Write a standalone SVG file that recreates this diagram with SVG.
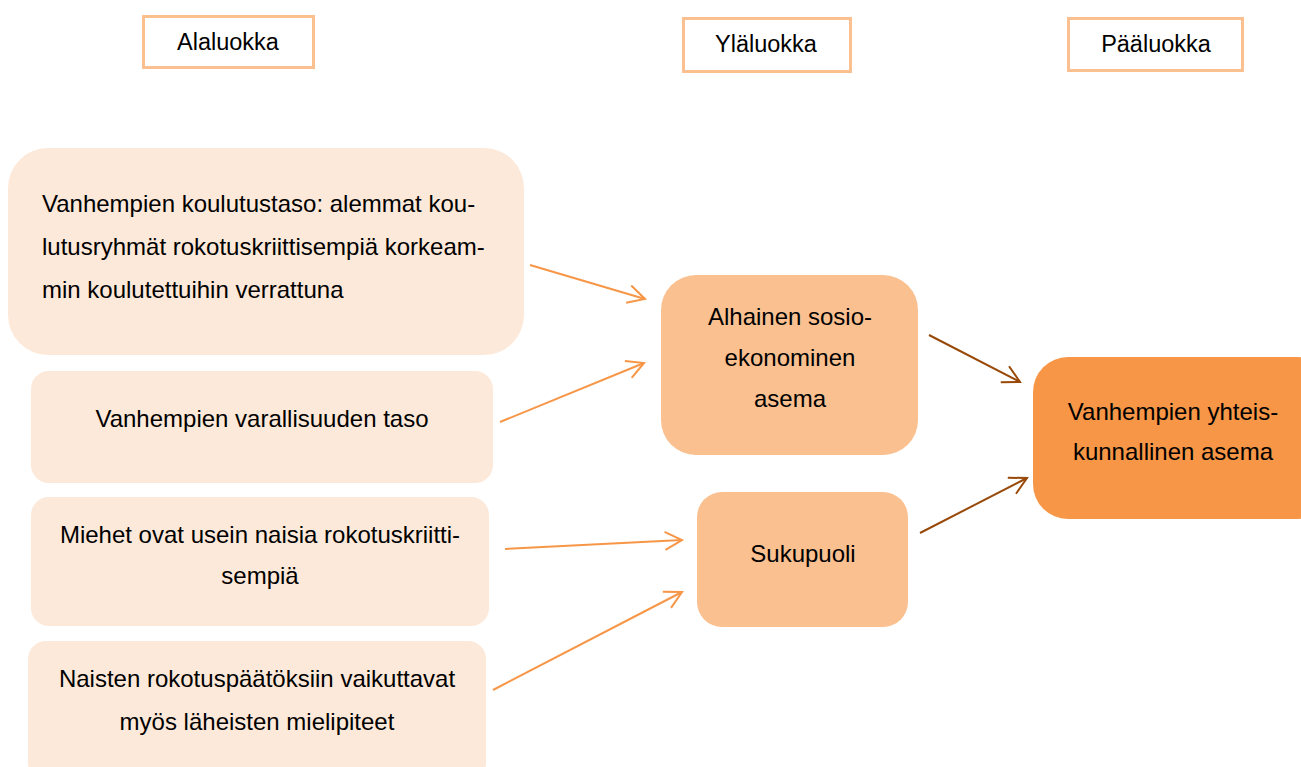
<svg xmlns="http://www.w3.org/2000/svg" width="1301" height="767" viewBox="0 0 1301 767">
<style>
.t{font-family:"Liberation Sans",Arial,sans-serif;font-size:24px;fill:#000}
.h{font-size:23.5px}
.c{text-anchor:middle}
.hdr{fill:#fff;stroke:#FAC090;stroke-width:3}
.l1{fill:#FDE9D9}
.l2{fill:#FAC090}
.l3{fill:#F79646}
.ao{stroke:#F79646;stroke-width:2;fill:none}
.ad{stroke:#984807;stroke-width:2;fill:none}
</style>
<defs>
<marker id="mo" markerUnits="userSpaceOnUse" markerWidth="24" markerHeight="24" viewBox="0 0 24 24" refX="19" refY="10" orient="auto">
<path d="M2,1 L19,10 L2,19" fill="none" stroke="#F79646" stroke-width="2"/>
</marker>
<marker id="md" markerUnits="userSpaceOnUse" markerWidth="24" markerHeight="24" viewBox="0 0 24 24" refX="19" refY="10" orient="auto">
<path d="M2,1 L19,10 L2,19" fill="none" stroke="#984807" stroke-width="2"/>
</marker>
</defs>
<rect width="1301" height="767" fill="#fff"/>
<g id="h1"><rect class="hdr" x="143.5" y="16.5" width="170" height="51"/><text class="t h c" x="228" y="50">Alaluokka</text></g>
<g id="h2"><rect class="hdr" x="683.5" y="18.5" width="167" height="53"/><text class="t h c" x="766" y="52">Yläluokka</text></g>
<g id="h3"><rect class="hdr" x="1068.5" y="18.5" width="174" height="52"/><text class="t h c" x="1156" y="52">Pääluokka</text></g>

<g id="n1"><rect class="l1" x="8" y="148" width="516" height="207" rx="40"/>
<text class="t" x="42" y="212">Vanhempien koulutustaso: alemmat kou-</text>
<text class="t" x="42" y="255">lutusryhmät rokotuskriittisempiä korkeam-</text>
<text class="t" x="42" y="298">min koulutettuihin verrattuna</text></g>
<g id="n2"><rect class="l1" x="31" y="371" width="462" height="112" rx="18"/>
<text class="t c" x="262" y="427">Vanhempien varallisuuden taso</text></g>
<g id="n3"><rect class="l1" x="31" y="497" width="458" height="129" rx="18"/>
<text class="t c" x="260" y="543">Miehet ovat usein naisia rokotuskriitti-</text>
<text class="t c" x="260" y="584">sempiä</text></g>
<g id="n4"><rect class="l1" x="28" y="641" width="458" height="140" rx="18"/>
<text class="t c" x="257" y="687">Naisten rokotuspäätöksiin vaikuttavat</text>
<text class="t c" x="257" y="730">myös läheisten mielipiteet</text></g>
<g id="n5"><rect class="l2" x="661" y="275" width="257" height="180" rx="35"/>
<text class="t c" x="790" y="325">Alhainen sosio-</text>
<text class="t c" x="790" y="366">ekonominen</text>
<text class="t c" x="790" y="407">asema</text></g>
<g id="n6"><rect class="l2" x="697" y="492" width="211" height="135" rx="25"/>
<text class="t c" x="803" y="562">Sukupuoli</text></g>
<g id="n7"><rect class="l3" x="1033" y="357" width="300" height="162" rx="35"/>
<text class="t c" x="1173" y="420">Vanhempien yhteis-</text>
<text class="t c" x="1173" y="460">kunnallinen asema</text></g>

<g id="connectors">
<line class="ao" x1="530" y1="265" x2="645" y2="299" marker-end="url(#mo)"/>
<line class="ao" x1="500" y1="422" x2="644" y2="363" marker-end="url(#mo)"/>
<line class="ao" x1="505" y1="549" x2="682" y2="540" marker-end="url(#mo)"/>
<line class="ao" x1="493" y1="690" x2="682" y2="592" marker-end="url(#mo)"/>
<line class="ad" x1="929" y1="335" x2="1020" y2="382" marker-end="url(#md)"/>
<line class="ad" x1="920" y1="533" x2="1027" y2="478" marker-end="url(#md)"/>
</g>
</svg>
